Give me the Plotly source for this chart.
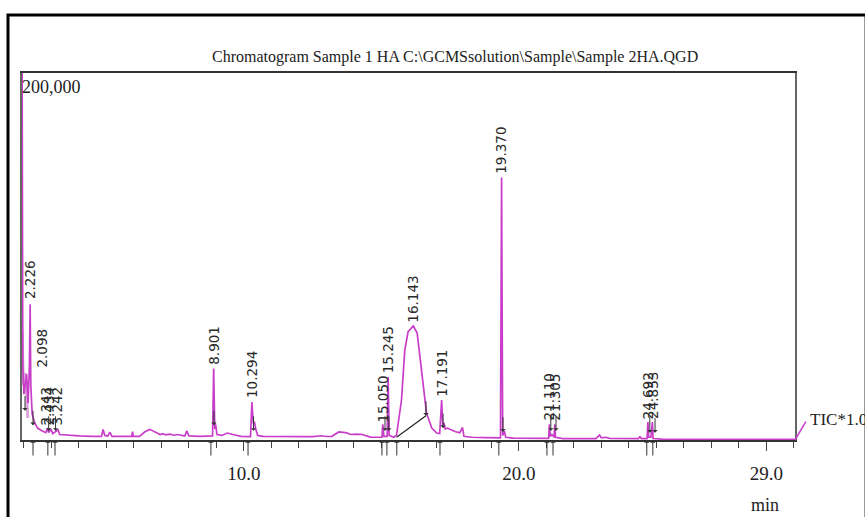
import plotly.graph_objects as go

# ---- data ----
trace_t = [1.93, 1.96, 2.00, 2.05, 2.098, 2.15, 2.20, 2.226, 2.25, 2.30, 2.40, 2.50, 2.65, 2.80, 2.86, 2.90,
           2.98, 3.05, 3.24, 3.30, 3.60, 4.00, 4.50, 4.82, 4.88, 4.94, 5.05, 5.13, 5.20, 5.60, 5.92, 5.95,
           5.98, 6.20, 6.40, 6.58, 6.80, 6.95, 7.05, 7.15, 7.30, 7.45, 7.60, 7.75, 7.85, 7.92, 8.00, 8.40,
           8.86, 8.90, 8.94, 8.97, 9.02, 9.20, 9.40, 9.60, 9.90, 10.24, 10.29, 10.34, 10.38, 10.43, 10.50,
           10.70, 11.50, 12.00, 12.50, 12.80, 13.00, 13.20, 13.45, 13.70, 13.90, 14.10, 14.30, 14.60, 14.90,
           15.02, 15.05, 15.09, 15.21, 15.245, 15.28, 15.45, 15.55, 15.73, 15.85, 15.97, 16.16, 16.30,
           16.40, 16.52, 16.64, 16.83, 17.01, 17.12, 17.19, 17.23, 17.27, 17.32, 17.40, 17.55, 17.70,
           17.85, 17.95, 18.00, 18.30, 18.80, 19.20, 19.33, 19.37, 19.41, 19.47, 19.52, 19.80, 20.50,
           21.00, 21.08, 21.11, 21.14, 21.20, 21.28, 21.305, 21.33, 21.60, 22.80, 22.93, 23.00, 23.15,
           23.30, 24.35, 24.40, 24.45, 24.66, 24.692, 24.72, 24.80, 24.853, 24.88, 25.20, 27.00, 30.04]
trace_i = [230000, 40000, 25000, 30000, 36000, 20000, 40000, 74000, 30000, 14000, 9000, 6500, 5000, 4000, 6500, 4000,
           6000, 3500, 5500, 3000, 2500, 2200, 2000, 2000, 5800, 2500, 2200, 4200, 2000, 2100, 2000, 4500,
           2000, 2000, 4500, 5800, 4200, 3000, 3500, 2800, 3200, 2600, 3000, 2400, 2200, 5000, 2200, 2000,
           2200, 39000, 6000, 8500, 3000, 2500, 3800, 3000, 2000, 1800, 20700, 9000, 10000, 6000, 2500,
           2000, 1800, 2000, 1800, 2300, 1900, 2000, 4400, 4000, 3000, 3200, 3000, 1600, 1500,
           1500, 8500, 2000, 2000, 34300, 2500, 1500, 2700, 21800, 49000, 59000, 62100, 58300,
           45400, 29000, 14700, 6500, 3800, 3500, 21800, 8000, 9500, 6000, 6500, 5500, 4500,
           4000, 6800, 2000, 1500, 1300, 1200, 1200, 143000, 2500, 5000, 1500, 1000, 1000,
           900, 900, 8500, 2000, 3000, 1500, 8500, 1500, 800, 800, 2700, 1200, 1500,
           900, 700, 2000, 700, 700, 9800, 1500, 1500, 9800, 800, 500, 400, 300]

# lighter overlapping trace at the solvent front
front_t = [1.93, 1.95, 1.98, 2.02, 2.06, 2.10, 2.14]
front_i = [60000, 34000, 30000, 36500, 33000, 24000, 12000]

peak_labels = ["2.098", "2.226", "2.343", "2.434", "3.242", "8.901", "10.294", "15.050", "15.245",
               "16.143", "17.191", "19.370", "21.110", "21.305", "24.692", "24.853"]
label_t = [2.65, 2.226, 2.80, 2.91, 3.20, 8.901, 10.294, 15.05, 15.245,
           16.143, 17.191, 19.37, 21.11, 21.305, 24.692, 24.853]
label_i = [38000, 75000, 6500, 6500, 6500, 39500, 21000, 8000, 34500,
           62500, 22000, 143500, 9000, 9000, 9800, 9800]

start_marks_t = [2.33, 2.87, 3.13, 8.80, 10.15, 15.02, 15.20, 15.56, 17.13, 19.27, 21.02, 21.24, 24.65, 24.87]
end_marks_t = [2.04, 2.33, 2.90, 3.15, 8.91, 10.35, 15.13, 15.27, 16.62, 17.24, 19.42, 21.16, 21.35, 24.76, 24.95]
end_marks_i = [16000, 8000, 5000, 5000, 8000, 5000, 5000, 5000, 13200, 6500, 4500, 5000, 5000, 4000, 4000]

drop_t = [15.55, 16.62]
drop_i = [1500, 13200]

x_tickvals = [10.0, 20.0, 29.0]
x_ticktext = ["10.0", "20.0", "29.0"]

MAG = "#c93ec9"
SERIF = "Liberation Serif"

fig = go.Figure()
fig.add_trace(go.Scatter(x=front_t, y=front_i, mode="lines",
                         line=dict(color="#dca6dc", width=3), hoverinfo="skip"))
fig.add_trace(go.Scatter(x=trace_t, y=trace_i, mode="lines",
                         line=dict(color=MAG, width=1.7), hoverinfo="skip"))
fig.add_trace(go.Scatter(x=drop_t, y=drop_i, mode="lines",
                         line=dict(color="#222", width=1.2), hoverinfo="skip"))

anns = []
for txt, t, v in zip(peak_labels, label_t, label_i):
    anns.append(dict(x=t, y=v, xref="x", yref="y", text=txt, showarrow=False, textangle=-90,
                     xanchor="center", yanchor="bottom", yshift=1,
                     font=dict(family="DejaVu Sans", size=13.5, color="#2a2a2a")))
for t in start_marks_t:
    anns.append(dict(x=t, y=0, xref="x", yref="y", text="", showarrow=True, ax=0, ay=17,
                     arrowhead=1, arrowsize=0.9, arrowwidth=1, arrowcolor="#333"))
for t, v in zip(end_marks_t, end_marks_i):
    anns.append(dict(x=t, y=v, xref="x", yref="y", text="", showarrow=True, ax=0, ay=-16,
                     arrowhead=1, arrowsize=0.9, arrowwidth=1, arrowcolor="#333"))

anns.append(dict(x=0.56, y=1.0436, xref="paper", yref="paper",
                 text="Chromatogram Sample 1 HA C:\\GCMSsolution\\Sample\\Sample 2HA.QGD",
                 showarrow=False, xanchor="center", yanchor="middle",
                 font=dict(family=SERIF, size=16, color="#222")))
anns.append(dict(x=0, y=1, xref="paper", yref="paper", text="200,000", showarrow=False,
                 xanchor="left", yanchor="top", xshift=-2, yshift=-2,
                 font=dict(family=SERIF, size=18, color="#222")))
anns.append(dict(x=0.961, y=-0.177, xref="paper", yref="paper", text="min", showarrow=False,
                 xanchor="center", yanchor="middle", font=dict(family=SERIF, size=18, color="#222")))
anns.append(dict(x=1.017, y=0.055, xref="paper", yref="paper", text="TIC*1.00", showarrow=False,
                 xanchor="left", yanchor="middle", font=dict(family=SERIF, size=17, color="#222")))

shapes = [
    dict(type="line", xref="paper", yref="paper", x0=1.0, y0=0, x1=1.014, y1=0.05,
         line=dict(color=MAG, width=1.5)),
    dict(type="rect", xref="paper", yref="paper", x0=-0.0181, y0=1.158, x1=1.092, y1=-0.23,
         line=dict(color="black", width=3)),
]

fig.update_layout(
    width=865, height=517,
    margin=dict(l=22, r=70, t=73, b=77),
    paper_bgcolor="white", plot_bgcolor="white",
    showlegend=False,
    annotations=anns, shapes=shapes,
    xaxis=dict(range=[1.93, 30.04], showgrid=False, zeroline=False,
               showline=True, linecolor="#333", linewidth=2, mirror=True,
               tickmode="array", tickvals=x_tickvals, ticktext=x_ticktext,
               ticks="outside", ticklen=9, tickwidth=1.2, tickcolor="#444",
               ticklabelstandoff=6,
               minor=dict(ticks="outside", tick0=0, dtick=1, ticklen=6, tickwidth=1, tickcolor="#444"),
               tickfont=dict(family=SERIF, size=19, color="#222")),
    yaxis=dict(range=[0, 200000], showgrid=False, zeroline=False, showticklabels=False,
               showline=True, linecolor="#666", linewidth=1.5, mirror=True, ticks=""),
)

fig.write_html("out.html")
